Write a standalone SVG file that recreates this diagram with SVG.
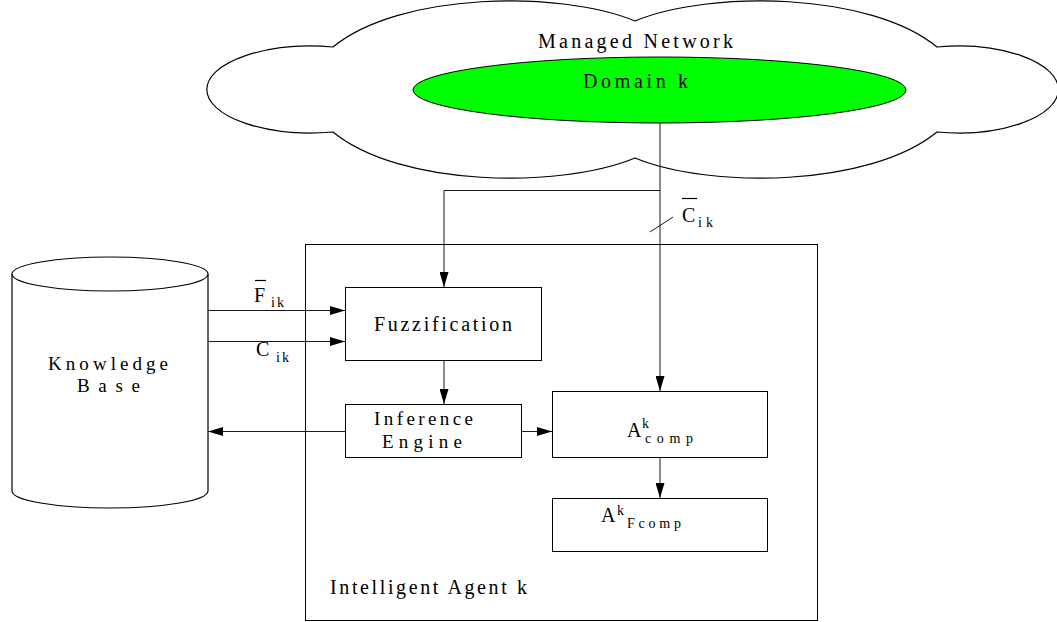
<svg xmlns="http://www.w3.org/2000/svg" width="1057" height="622" viewBox="0 0 1057 622" font-family="'Liberation Serif', 'Times New Roman', serif">
  <style>
    .shape { fill: #ffffff; stroke: #000000; stroke-width: 1.2; }
    .box { fill: #ffffff; stroke: #000000; stroke-width: 1; }
    .wire { fill: none; stroke: #1a1a1a; stroke-width: 1; }
    .bar { stroke: #000000; stroke-width: 1.2; }
    text { font-family: "Liberation Serif", "Times New Roman", serif; fill: #000000; }
    .t { font-size: 20px; }
    .t2 { font-size: 19px; }
    .sym { font-size: 20px; }
    .sub { font-size: 14px; }
  </style>
  <defs>
    <marker id="arrow" markerUnits="userSpaceOnUse" markerWidth="15" markerHeight="9" refX="15" refY="4.5" orient="auto">
      <path d="M0,0 L15,4.5 L0,9 Z" fill="#000000"/>
    </marker>
  </defs>

  <rect width="1057" height="622" fill="#ffffff"/>

  <!-- managed network cloud -->
  <g id="network">
    <path class="shape" d="M333,47 C400,-8 560,-10 635,21 C710,-10 870,-8 937,47 A100,43.5 0 1 1 937,132 C870,187 710,189 635,158 C560,189 400,187 333,132 A104,43.5 0 1 1 333,47 Z"/>
    <text class="t" x="538" y="48" textLength="195" lengthAdjust="spacing">Managed Network</text>
  </g>

  <!-- domain inside the network -->
  <g id="domain">
    <ellipse cx="659.5" cy="90" rx="246.5" ry="33" fill="#00ff00" stroke="#000000" stroke-width="1"/>
    <text class="t" x="583" y="88" textLength="105" lengthAdjust="spacing">Domain k</text>
  </g>

  <!-- knowledge base store -->
  <g id="knowledge-base">
    <path class="shape" d="M12,274 L12,491 A98,17 0 0 0 208,491 L208,274"/>
    <ellipse class="shape" cx="110" cy="274" rx="98" ry="17"/>
    <text class="t2" x="48" y="370" textLength="120" lengthAdjust="spacing">Knowledge</text>
    <text class="t2" x="77" y="392" textLength="63" lengthAdjust="spacing">Base</text>
  </g>

  <!-- agent container -->
  <g id="agent">
    <rect class="box" x="305.5" y="244.5" width="512" height="376"/>
    <text class="t" x="330" y="594" textLength="197" lengthAdjust="spacing">Intelligent Agent k</text>
  </g>

  <g id="fuzzification">
    <rect class="box" x="345.5" y="287.5" width="196" height="73"/>
    <text class="t" x="374" y="331" textLength="138" lengthAdjust="spacing">Fuzzification</text>
  </g>

  <g id="inference-engine">
    <rect class="box" x="345.5" y="404.5" width="176" height="53"/>
    <text class="t2" x="374" y="425" textLength="99" lengthAdjust="spacing">Inference</text>
    <text class="t2" x="382" y="448" textLength="80" lengthAdjust="spacing">Engine</text>
  </g>

  <g id="a-comp">
    <rect class="box" x="552.5" y="391.5" width="215" height="66"/>
    <text class="sym" x="627" y="437">A</text>
    <text class="sub" x="642" y="428">k</text>
    <text class="sub" x="645" y="443" textLength="48" lengthAdjust="spacing">comp</text>
  </g>

  <g id="a-fcomp">
    <rect class="box" x="552.5" y="498.5" width="215" height="53"/>
    <text class="sym" x="601" y="522">A</text>
    <text class="sub" x="617" y="515">k</text>
    <text class="sub" x="627" y="528" textLength="54" lengthAdjust="spacing">Fcomp</text>
  </g>

  <!-- connectors -->
  <g id="connectors">
    <path class="wire" d="M660,123 L660,391" marker-end="url(#arrow)"/>
    <path class="wire" d="M660,190.5 L444,190.5 L444,287" marker-end="url(#arrow)"/>
    <path class="wire" d="M650,232 L673,217"/>
    <path class="wire" d="M208,310.5 L345,310.5" marker-end="url(#arrow)"/>
    <path class="wire" d="M208,341.5 L345,341.5" marker-end="url(#arrow)"/>
    <path class="wire" d="M444,361 L444,404" marker-end="url(#arrow)"/>
    <path class="wire" d="M522,431.5 L552,431.5" marker-end="url(#arrow)"/>
    <path class="wire" d="M345,431.5 L208,431.5" marker-end="url(#arrow)"/>
    <path class="wire" d="M660,458 L660,498" marker-end="url(#arrow)"/>
  </g>

  <!-- connector labels -->
  <g id="label-f-ik">
    <line class="bar" x1="255" y1="280.5" x2="266" y2="280.5"/>
    <text class="sym" x="254" y="302">F</text>
    <text class="sub" x="271" y="307" textLength="13" lengthAdjust="spacing">ik</text>
  </g>
  <g id="label-c-ik">
    <text class="sym" x="256" y="356">C</text>
    <text class="sub" x="276" y="362" textLength="13" lengthAdjust="spacing">ik</text>
  </g>
  <g id="label-cbar-ik">
    <line class="bar" x1="682" y1="198.5" x2="697" y2="198.5"/>
    <text class="sym" x="682" y="222">C</text>
    <text class="sub" x="698" y="227" textLength="15" lengthAdjust="spacing">ik</text>
  </g>
</svg>
